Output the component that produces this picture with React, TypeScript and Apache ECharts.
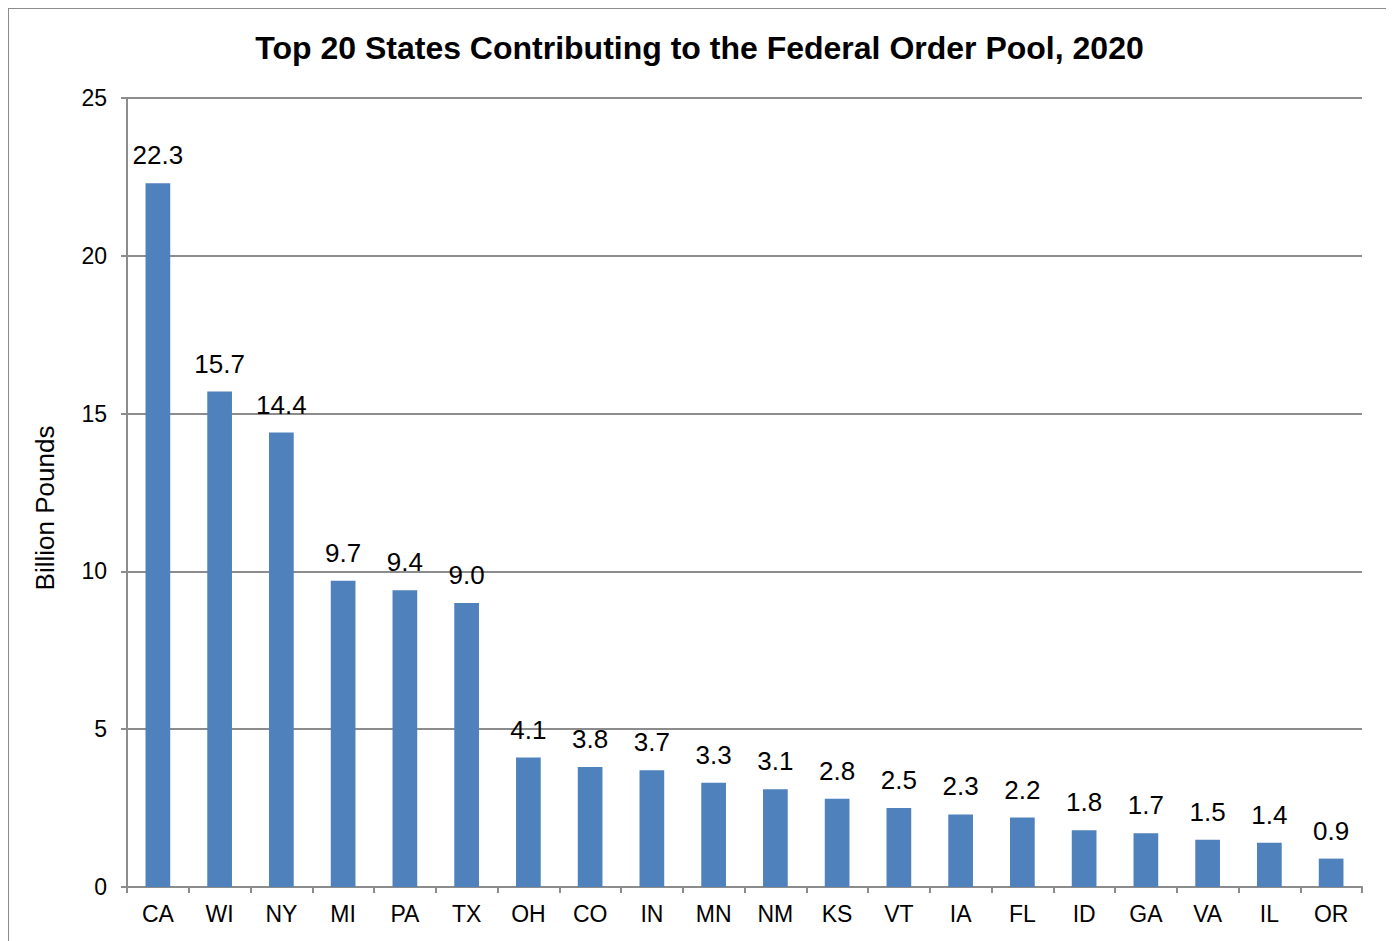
import React, { useEffect, useRef } from "react";
import * as echarts from "echarts";

const states = ["CA", "WI", "NY", "MI", "PA", "TX", "OH", "CO", "IN", "MN", "NM", "KS", "VT", "IA", "FL", "ID", "GA", "VA", "IL", "OR"];
const values = [22.3, 15.7, 14.4, 9.7, 9.4, 9.0, 4.1, 3.8, 3.7, 3.3, 3.1, 2.8, 2.5, 2.3, 2.2, 1.8, 1.7, 1.5, 1.4, 0.9];
const titleText = "Top 20 States Contributing to the Federal Order Pool, 2020";
const yAxisName = "Billion Pounds";

const FONT = "'Liberation Sans', Arial, sans-serif";

export default function App() {
  const ref = useRef<HTMLDivElement>(null);
  useEffect(() => {
    document.body.style.overflow = "hidden";
    const chart = echarts.init(ref.current!, null, { renderer: "svg" });
    chart.setOption({
      animation: false,
      backgroundColor: "#ffffff",
      title: {
        text: titleText,
        left: "center",
        top: 19,
        textStyle: { fontFamily: FONT, fontSize: 32, fontWeight: "bold", color: "#000" },
      },
      graphic: [
        {
          type: "rect",
          shape: { x: 0, y: 0, width: 1382, height: 1000 },
          style: { fill: "none", stroke: "#8c8c8c", lineWidth: 2 },
          silent: true,
        },
        {
          type: "text",
          x: 37,
          y: 500,
          rotation: Math.PI / 2,
          style: {
            text: yAxisName,
            fontFamily: FONT,
            fontSize: 26,
            fill: "#000",
            align: "center",
            verticalAlign: "middle",
          },
          silent: true,
        },
      ],
      grid: { left: 119, right: 29, top: 90, bottom: 54 },
      xAxis: {
        type: "category",
        data: states,
        axisLine: { show: true, lineStyle: { color: "#8c8c8c", width: 2 } },
        axisTick: { show: true, alignWithLabel: false, length: 6, lineStyle: { color: "#8c8c8c", width: 2 } },
        axisLabel: { fontFamily: FONT, fontSize: 23, color: "#000", margin: 15, interval: 0 },
      },
      yAxis: {
        type: "value",
        min: 0,
        max: 25,
        interval: 5,
        axisLine: { show: true, lineStyle: { color: "#8c8c8c", width: 2 } },
        axisTick: { show: true, length: 6, lineStyle: { color: "#8c8c8c", width: 2 } },
        axisLabel: { fontFamily: FONT, fontSize: 23, color: "#000", margin: 20 },
        splitLine: { show: true, lineStyle: { color: "#8c8c8c", width: 2 } },
      },
      series: [
        {
          type: "bar",
          data: values,
          barWidth: "40%",
          itemStyle: { color: "#4F81BD" },
          label: {
            show: true,
            position: "top",
            distance: 15,
            fontFamily: FONT,
            fontSize: 26,
            color: "#000",
            formatter: (p: any) => Number(p.value).toFixed(1),
          },
        },
      ],
    });
    return () => chart.dispose();
  }, []);
  return <div ref={ref} style={{ width: 1383, height: 933 }} />;
}
